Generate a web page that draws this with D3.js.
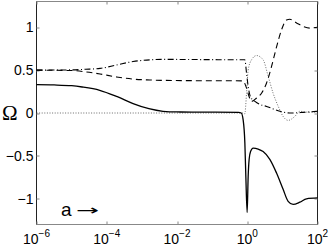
<!DOCTYPE html>
<html><head><meta charset="utf-8">
<script src="https://cdn.jsdelivr.net/npm/d3@7"></script>
<style>body{margin:0;background:#fff}svg{display:block}</style>
</head><body>
<script>
// log10(a) positions and Omega values
const solidLogA = [-6,-5.5,-5,-4.7,-4.2,-3.7,-3.25,-2.8,-2.4,-2,-1,-0.25,-0.17,-0.117,-0.068,-0.04,-0.003,0.026,0.054,0.094,0.168,0.31,0.452,0.643,0.834,1.021,1.164,1.306,1.497,1.687,2];
const solidVal  = [0.33,0.327,0.318,0.303,0.265,0.19,0.11,0.05,0.02,0.012,0.01,0.008,0.0,-0.08,-0.35,-0.74,-1.16,-0.74,-0.54,-0.45,-0.41,-0.42,-0.45,-0.54,-0.70,-0.89,-1.03,-1.066,-1.04,-1.0,-0.99];

const dashLogA = [-6,-5,-4.6,-4.19,-3.72,-3.25,-2.77,-2.35,-1,-0.125,-0.02,0.054,0.122,0.265,0.407,0.55,0.69,0.834,0.976,1.118,1.212,1.403,1.59,1.78,2];
const dashVal  = [0.5,0.495,0.48,0.455,0.42,0.395,0.385,0.38,0.376,0.375,0.29,0.19,0.135,0.175,0.23,0.35,0.54,0.77,0.97,1.085,1.093,1.05,1.01,0.99,1.0];

const dashDotLogA = [-6,-5,-4.6,-4.19,-3.72,-3.25,-2.77,-2.35,-1,-0.07,-0.02,0.026,0.094,0.22,0.36,0.55,0.74,0.93,1.21,1.59,2];
const dashDotVal  = [0.5,0.503,0.51,0.52,0.56,0.6,0.62,0.625,0.622,0.62,0.465,0.31,0.186,0.135,0.1,0.077,0.047,0.02,0.0,0.007,0.02];

const dotLogA = [-6,-1,-0.125,-0.07,-0.02,0.026,0.122,0.265,0.452,0.595,0.737,0.879,1.021,1.164,1.354,1.497,1.7,2];
const dotVal  = [0,0,0,-0.01,0.23,0.5,0.62,0.67,0.62,0.43,0.23,0.08,-0.04,-0.086,-0.04,0.02,0.01,0.01];

const xTickExp = [-6,-4,-2,0,2];
const yTicks = [-1,-0.5,0,0.5,1];
const yTickLabels = ["\u22121","\u22120.5","0","0.5","1"];

const W = 332, H = 249;
const m = {l:36.5, t:1.5, r:14.5, b:25};
const iw = W - m.l - m.r, ih = 223;

const svg = d3.select("body").append("svg").attr("width", W).attr("height", H);
const g = svg.append("g").attr("transform", `translate(${m.l},${m.t})`);

const x = d3.scaleLog().domain([1e-6, 1e2]).range([0, iw]);
const y = d3.scaleLinear().domain([-1.3, 1.3]).range([ih, 0]);

// box
g.append("line").attr("x1",0).attr("x2",iw).attr("y1",0).attr("y2",0).attr("stroke","#888");
g.append("line").attr("x1",0).attr("x2",iw).attr("y1",ih).attr("y2",ih).attr("stroke","#888");
g.append("line").attr("x1",0).attr("x2",0).attr("y1",0).attr("y2",ih).attr("stroke","#222");
g.append("line").attr("x1",iw).attr("x2",iw).attr("y1",0).attr("y2",ih).attr("stroke","#222");

// ticks (inward)
const tl = 3;
xTickExp.forEach(e => {
  const px = Math.round(x(Math.pow(10,e))) + 0.5;
  g.append("line").attr("x1",px).attr("x2",px).attr("y1",ih).attr("y2",ih-tl).attr("stroke","#888");
  g.append("line").attr("x1",px).attr("x2",px).attr("y1",0).attr("y2",tl).attr("stroke","#888");
});
yTicks.forEach(v => {
  const py = Math.round(y(v)) + 0.5;
  g.append("line").attr("x1",0).attr("x2",tl).attr("y1",py).attr("y2",py).attr("stroke","#888");
  g.append("line").attr("x1",iw).attr("x2",iw-tl).attr("y1",py).attr("y2",py).attr("stroke","#888");
});

// tick labels
const font = "Liberation Sans, Arial, sans-serif";
yTicks.forEach((v,i) => {
  g.append("text").attr("x",-3).attr("y",y(v)+5).attr("text-anchor","end").attr("fill","#000")
   .attr("font-family",font).attr("font-size",14).text(yTickLabels[i]);
});
xTickExp.forEach(e => {
  const t = g.append("text").attr("x",x(Math.pow(10,e))).attr("y",ih+19).attr("text-anchor","middle").attr("fill","#000")
   .attr("font-family",font).attr("font-size",14);
  t.append("tspan").text("10");
  t.append("tspan").attr("font-size",10).attr("dy",-7).text(e<0 ? "\u2212"+(-e) : String(e));
});

// series
const line = d3.line().x(d => x(d[0])).y(d => y(d[1])).curve(d3.curveMonotoneX);
function series(la, vals){ return la.map((u,i) => [Math.pow(10,u), vals[i]]); }

g.append("path").datum(series(dotLogA, dotVal)).attr("d", line)
  .attr("fill","none").attr("stroke","#444").attr("stroke-width",0.8).attr("stroke-dasharray","1,1.6");
g.append("path").datum(series(dashDotLogA, dashDotVal)).attr("d", line)
  .attr("fill","none").attr("stroke","#000").attr("stroke-width",1.1).attr("stroke-dasharray","6,2.5,1,2.5");
g.append("path").datum(series(dashLogA, dashVal)).attr("d", line)
  .attr("fill","none").attr("stroke","#000").attr("stroke-width",1.1).attr("stroke-dasharray","6,4");
g.append("path").datum(series(solidLogA, solidVal)).attr("d", line)
  .attr("fill","none").attr("stroke","#000").attr("stroke-width",1.3);

// labels
svg.append("text").attr("x",2).attr("y",119.5).attr("fill","#000").attr("font-family","Liberation Serif, Times New Roman, serif")
  .attr("font-size",21).text("\u03A9");
svg.append("text").attr("x",61).attr("y",216).attr("fill","#000").attr("font-family",font).attr("font-size",19).text("a");
svg.append("text").attr("x",76).attr("y",214.5).attr("fill","#000").attr("font-family","DejaVu Sans, sans-serif")
  .attr("font-size",14).attr("textLength",23).attr("lengthAdjust","spacingAndGlyphs").text("\u2192");
</script>
</body></html>
